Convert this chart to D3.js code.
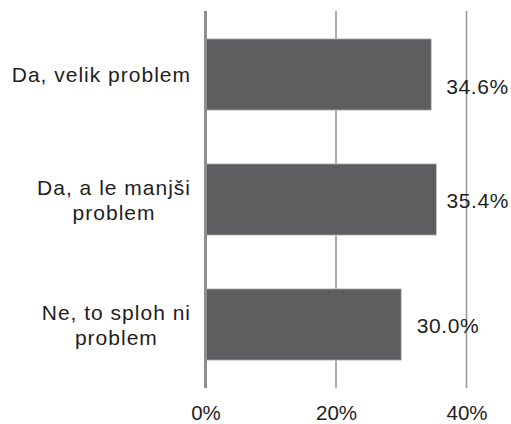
<!DOCTYPE html>
<html><head><meta charset="utf-8">
<script src="https://cdn.jsdelivr.net/npm/d3@7"></script>
<style>
html,body{margin:0;padding:0;background:#fff;}
text{font-family:"Liberation Sans",Arial,sans-serif;fill:#1e1e1e;}
</style></head>
<body>
<svg id="chart" width="511" height="424"></svg>
<script>
const categories = ["Da, velik problem", "Da, a le manjši|problem", "Ne, to sploh ni|problem"];
const values = [34.6, 35.4, 30.0];
const valueLabels = ["34.6%", "35.4%", "30.0%"];
const tickValues = [0, 20, 40];
const tickLabels = ["0%", "20%", "40%"];

const svg = d3.select("#chart");
const x = d3.scaleLinear().domain([0, 40]).range([205.5, 466.5]);
const y = d3.scaleBand().domain(categories).range([12, 387]).paddingInner(0.43).paddingOuter(0.215);

// gridlines
svg.append("g").selectAll("line").data(tickValues.slice(1)).join("line")
  .attr("x1", d => x(d)).attr("x2", d => x(d))
  .attr("y1", 11).attr("y2", 388)
  .attr("stroke", "#9a9a9c").attr("stroke-width", 1.6);

// bars
svg.append("g").selectAll("rect").data(values).join("rect")
  .attr("x", x(0) + 1)
  .attr("y", (d, i) => y(categories[i]))
  .attr("width", d => x(d) - x(0) - 1)
  .attr("height", y.bandwidth())
  .attr("fill", "#5e5e60")
  .attr("stroke", "#c8c8c8").attr("stroke-width", 0.8);

// axis line at 0
svg.append("line").attr("x1", x(0)).attr("x2", x(0)).attr("y1", 11).attr("y2", 388)
  .attr("stroke", "#8e8e90").attr("stroke-width", 3);

// tick labels
const xAxis = d3.axisBottom(x).tickValues(tickValues).tickFormat((d, i) => tickLabels[i]).tickSize(0).tickPadding(0);
const gx = svg.append("g").attr("transform", "translate(0,405)").call(xAxis);
gx.select(".domain").remove();
gx.selectAll("text").attr("font-size", 20.5).attr("dy", "0.72em")
  .style("font-family", '"Liberation Sans",Arial,sans-serif').attr("fill", "#1e1e1e");

// category labels
const rightEdge = 191;
categories.forEach((c, i) => {
  const lines = c.split("|");
  const cy = y(c) + y.bandwidth() / 2;
  const g = svg.append("g");
  const texts = lines.map((ln, j) => g.append("text")
    .attr("font-size", 21).style("letter-spacing", "1px")
    .attr("text-anchor", "middle")
    .attr("y", cy + (j - (lines.length - 1) / 2) * 25 + 7.5)
    .text(ln));
  const w = d3.max(texts, t => t.node().getComputedTextLength());
  texts.forEach(t => t.attr("x", rightEdge - w / 2));
});

// value labels
const labelDx = [15, 10, 15.5];
const labelDy = [12, 1, 0.5];
svg.append("g").selectAll("text").data(values).join("text")
  .attr("font-size", 21).style("letter-spacing", "0.6px")
  .attr("x", (d, i) => x(d) + labelDx[i])
  .attr("y", (d, i) => y(categories[i]) + y.bandwidth() / 2 + 7.5 + labelDy[i])
  .text((d, i) => valueLabels[i]);
</script>
</body></html>
